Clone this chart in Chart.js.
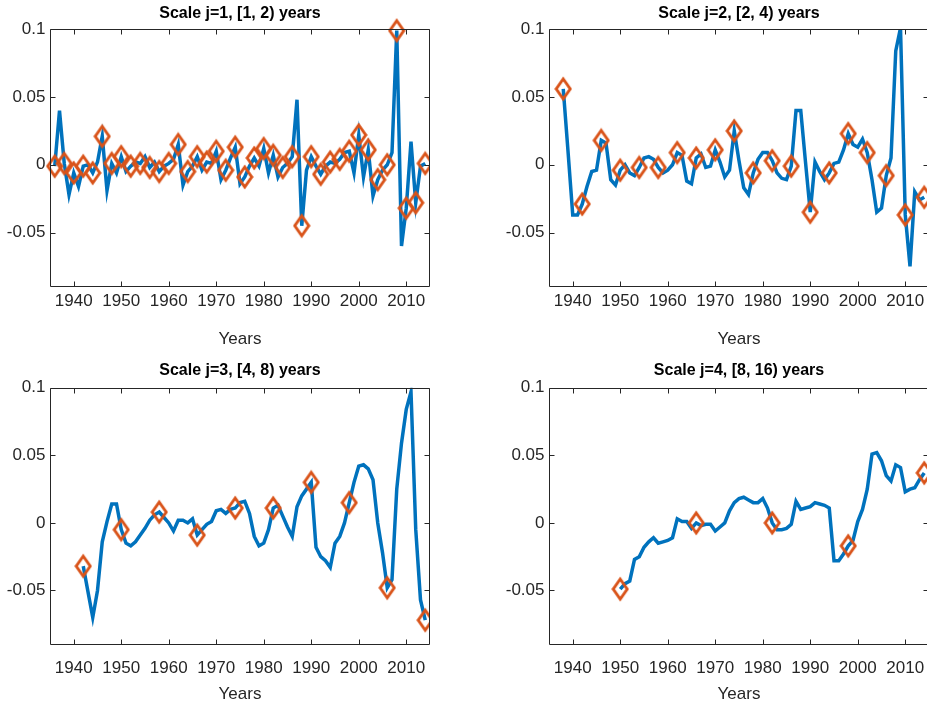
<!DOCTYPE html>
<html>
<head>
<meta charset="utf-8">
<script src="https://cdn.jsdelivr.net/npm/chart.js@4.4.1/dist/chart.umd.min.js"></script>
<style>
html, body { margin: 0; padding: 0; background: #fff; overflow: hidden; width: 927px; height: 711px; }
canvas { position: absolute; }
#labels { z-index: 5; pointer-events: none; }
</style>
</head>
<body>
<canvas id="c1" width="430" height="355" style="left:0px;top:0px"></canvas>
<canvas id="c2" width="430" height="355" style="left:499px;top:0px"></canvas>
<canvas id="c3" width="430" height="356" style="left:0px;top:355px"></canvas>
<canvas id="c4" width="430" height="356" style="left:499px;top:355px"></canvas>
<canvas id="labels" width="927" height="711" style="left:0px;top:0px"></canvas>
<script>
'use strict'

// axis ticks (same on all four panels)
var xTicks = [1940, 1950, 1960, 1970, 1980, 1990, 2000, 2010];
var yTicks = [-0.05, 0, 0.05, 0.1];
var yTickLabels = ['-0.05', '0', '0.05', '0.1'];

var titles = ['Scale j=1, [1, 2) years', 'Scale j=2, [2, 4) years',
	'Scale j=3, [4, 8) years', 'Scale j=4, [8, 16) years'];

// scale j=1, one value per year from 1936
var firstYear1 = 1936;
var values1 = [-0.001, 0.040, 0.001, -0.022, -0.006, -0.016, -0.001, 0.000, -0.006, 0.002,
	0.021, -0.019, 0.001, -0.006, 0.006, -0.005, -0.001, 0.002, 0.001, 0.006,
	-0.002, 0.002, -0.005, -0.001, 0.001, 0.004, 0.015, -0.015, -0.005, -0.001,
	0.006, -0.004, 0.002, 0.001, 0.010, -0.011, -0.004, 0.005, 0.013, -0.014,
	-0.009, -0.001, 0.005, -0.001, 0.012, -0.006, 0.007, -0.009, -0.002, 0.001,
	0.006, 0.048, -0.045, -0.004, 0.006, -0.001, -0.007, -0.001, 0.002, 0.001,
	0.004, 0.009, 0.010, -0.006, 0.022, -0.009, 0.011, -0.023, -0.011, -0.004,
	0.000, 0.009, 0.099, -0.060, -0.032, 0.017, -0.028, -0.001, 0.001];
var marks1 = [1936, 1938, 1940, 1942, 1944, 1946, 1948, 1950, 1952, 1954,
	1956, 1958, 1960, 1962, 1964, 1966, 1968, 1970, 1972, 1974,
	1976, 1978, 1980, 1982, 1984, 1986, 1988, 1990, 1992, 1994,
	1996, 1998, 2000, 2002, 2004, 2006, 2008, 2010, 2012, 2014];

// scale j=2, from 1938
var firstYear2 = 1938;
var values2 = [0.056, 0.010, -0.037, -0.037, -0.029, -0.016, -0.005, -0.004, 0.018, 0.016,
	-0.011, -0.015, -0.004, 0.000, -0.006, -0.008, -0.002, 0.005, 0.006, 0.004,
	-0.002, -0.006, -0.004, 0.000, 0.009, 0.007, -0.012, -0.014, 0.005, 0.008,
	-0.002, -0.001, 0.011, 0.002, -0.009, -0.004, 0.025, 0.003, -0.017, -0.022,
	-0.006, 0.004, 0.009, 0.009, 0.003, -0.006, -0.010, -0.011, -0.001, 0.040,
	0.040, 0.002, -0.035, 0.002, -0.005, -0.011, -0.006, 0.001, 0.002, 0.011,
	0.023, 0.015, 0.013, 0.019, 0.009, -0.011, -0.035, -0.032, -0.008, 0.005,
	0.084, 0.101, -0.037, -0.075, -0.020, -0.026, -0.024];
var marks2 = [1938, 1942, 1946, 1950, 1954, 1958, 1962, 1966, 1970, 1974,
	1978, 1982, 1986, 1990, 1994, 1998, 2002, 2006, 2010, 2014];

// scale j=3, from 1942
var firstYear3 = 1942;
var values3 = [-0.032, -0.051, -0.070, -0.050, -0.014, 0.001, 0.014, 0.014, -0.005, -0.015,
	-0.017, -0.014, -0.009, -0.004, 0.002, 0.006, 0.008, 0.004, 0.000, -0.006,
	0.002, 0.002, 0.000, 0.003, -0.009, -0.005, -0.001, 0.001, 0.009, 0.010,
	0.007, 0.010, 0.011, 0.015, 0.016, 0.007, -0.010, -0.017, -0.015, -0.005,
	0.011, 0.013, 0.005, -0.003, -0.010, 0.012, 0.020, 0.025, 0.030, -0.018,
	-0.025, -0.028, -0.033, -0.015, -0.010, 0.000, 0.015, 0.030, 0.042, 0.043,
	0.040, 0.032, 0.000, -0.022, -0.048, -0.042, 0.025, 0.059, 0.084, 0.097,
	-0.005, -0.057, -0.072];
var marks3 = [1942, 1950, 1958, 1966, 1974, 1982, 1990, 1998, 2006, 2014];

// scale j=4, from 1950
var firstYear4 = 1950;
var values4 = [-0.049, -0.045, -0.043, -0.027, -0.025, -0.018, -0.014, -0.011, -0.015, -0.014,
	-0.013, -0.011, 0.003, 0.001, 0.001, -0.004, 0.000, -0.002, -0.001, -0.001,
	-0.006, -0.003, 0.000, 0.009, 0.015, 0.018, 0.019, 0.017, 0.015, 0.015,
	0.018, 0.011, 0.000, -0.005, -0.005, -0.004, -0.001, 0.016, 0.010, 0.011,
	0.012, 0.015, 0.014, 0.013, 0.011, -0.028, -0.028, -0.023, -0.017, -0.013,
	0.001, 0.010, 0.025, 0.051, 0.052, 0.046, 0.035, 0.031, 0.043, 0.041,
	0.023, 0.025, 0.026, 0.032, 0.037];
var marks4 = [1950, 1966, 1982, 1998, 2014];

var blue = '#0072BD',
	orange = '#D95319',
	axisColor = '#262626',
	fontFamily = "'Liberation Sans', Arial, sans-serif";

// paddings per row of subplots (top row / bottom row)
var rowLayout = [
	{titleTop: 3.7, titleBottom: 6.4, xHeight: 68.3, xLabelGap: 15, yearsPad: 5},
	{titleTop: 6.4, titleBottom: 7.2, xHeight: 66.5, xLabelGap: 23.5, yearsPad: 6}
];

Chart.defaults.font.family = fontFamily;
Chart.defaults.color = axisColor;

// hollow diamond marker, a bit taller than wide like matlab's 'd'
function makeDiamond () {
	var c = document.createElement('canvas');
	c.width = 18;
	c.height = 26;
	var g = c.getContext('2d');
	g.strokeStyle = orange;
	g.lineWidth = 2.9;
	g.beginPath();
	g.moveTo(9, 3);
	g.lineTo(16, 13);
	g.lineTo(9, 23);
	g.lineTo(2, 13);
	g.closePath();
	g.stroke();
	return c;
}
var diamond = makeDiamond();

// matlab style box with inward ticks on all four sides
var boxPlugin = {
	id: 'matlabBox',
	afterDraw: function (chart) {
		var a = chart.chartArea, ctx = chart.ctx,
			xs = chart.scales.x, ys = chart.scales.y, len = 5;
		var l = Math.round(a.left) + 0.5, t = Math.round(a.top) + 0.5,
			r = Math.round(a.right) - 0.5, b = Math.round(a.bottom) - 0.5;
		ctx.save();
		ctx.strokeStyle = axisColor;
		ctx.lineWidth = 1;
		ctx.beginPath();
		ctx.moveTo(l, t); ctx.lineTo(r, t); ctx.lineTo(r, b); ctx.lineTo(l, b); ctx.closePath();
		xTicks.forEach(function (v) {
			var px = Math.round(xs.getPixelForValue(v)) + 0.5;
			ctx.moveTo(px, b); ctx.lineTo(px, b - len);
			ctx.moveTo(px, t); ctx.lineTo(px, t + len);
		});
		yTicks.forEach(function (v) {
			var py = Math.round(ys.getPixelForValue(v)) + 0.5;
			ctx.moveTo(l, py); ctx.lineTo(l + len, py);
			ctx.moveTo(r, py); ctx.lineTo(r - len, py);
		});
		ctx.stroke();
		ctx.restore();
	}
};

function drawPanel (id, title, firstYear, values, markYears, row) {
	var lay = rowLayout[row];
	var line = values.map(function (v, i) { return {x: firstYear + i, y: v}; });
	var marks = markYears.map(function (yr) { return {x: yr, y: values[yr - firstYear]}; });

	return new Chart(document.getElementById(id), {
		type: 'line',
		data: {
			datasets: [
				{ // markers first so they sit on top of the line
					data: marks,
					showLine: false,
					pointStyle: diamond,
					pointRadius: 8,
					borderColor: orange,
					clip: false
				},
				{
					data: line,
					borderColor: blue,
					borderWidth: 3.5,
					pointRadius: 0,
					tension: 0,
					fill: false
				}
			]
		},
		options: {
			responsive: false,
			animation: false,
			// no extra room for the markers, the box must fill the panel
			layout: { padding: 0, autoPadding: false },
			plugins: {
				legend: { display: false },
				tooltip: { enabled: false },
				title: {
					display: true,
					fullSize: false,
					text: title,
					color: '#000',
					font: { size: 16, weight: 'bold' },
					padding: { top: lay.titleTop, bottom: lay.titleBottom }
				}
			},
			scales: {
				x: {
					type: 'linear',
					min: 1935,
					max: 2015,
					grid: { display: false, drawTicks: false },
					border: { display: false },
					afterBuildTicks: function (s) { s.ticks = xTicks.map(function (v) { return {value: v}; }); },
					afterFit: function (s) {
						s.height = lay.xHeight;
						s.paddingLeft = 0;
						s.paddingRight = 0;
					},
					ticks: { display: false },
					title: {
						display: true,
						text: 'Years',
						font: { size: 17 },
						padding: { top: 0, bottom: lay.yearsPad }
					}
				},
				y: {
					min: -0.09,
					max: 0.1,
					grid: { display: false, drawTicks: false },
					border: { display: false },
					afterBuildTicks: function (s) { s.ticks = yTicks.map(function (v) { return {value: v}; }); },
					afterFit: function (s) { s.width = 50; },
					ticks: {
						padding: 4.5,
						font: { size: 17 },
						callback: function (v) { return yTickLabels[yTicks.indexOf(v)]; }
					}
				}
			}
		},
		plugins: [boxPlugin]
	});
}

var panels = [
	{chart: drawPanel('c1', titles[0], firstYear1, values1, marks1, 0), row: 0},
	{chart: drawPanel('c2', titles[1], firstYear2, values2, marks2, 0), row: 0},
	{chart: drawPanel('c3', titles[2], firstYear3, values3, marks3, 1), row: 1},
	{chart: drawPanel('c4', titles[3], firstYear4, values4, marks4, 1), row: 1}
];

// year labels go on a canvas laid over the four charts,
// placed from each chart's own x scale
var overlay = document.getElementById('labels').getContext('2d');
overlay.fillStyle = axisColor;
overlay.font = '17px ' + fontFamily;
overlay.textAlign = 'center';
overlay.textBaseline = 'middle';
panels.forEach(function (p) {
	var canvas = p.chart.canvas,
		xs = p.chart.scales.x,
		y = canvas.offsetTop + p.chart.chartArea.bottom + rowLayout[p.row].xLabelGap;
	xTicks.forEach(function (v) {
		overlay.fillText(String(v), canvas.offsetLeft + xs.getPixelForValue(v), y);
	});
});
</script>
</body>
</html>
